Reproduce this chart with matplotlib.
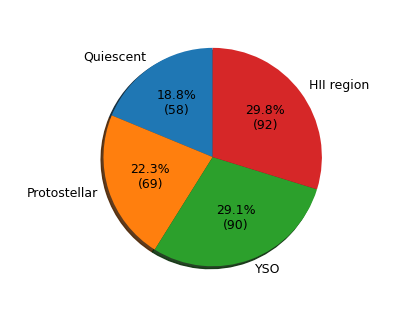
import matplotlib
matplotlib.use("Agg")
import matplotlib.pyplot as plt

labels = ["Quiescent", "Protostellar", "YSO", "HII region"]
counts = [58, 69, 90, 92]
colors = ["tab:blue", "tab:orange", "tab:green", "tab:red"]


def fmt(pct):
    n = int(round(pct * sum(counts) / 100.0))
    return "{:.1f}%\n({:d})".format(pct, n)


fig, ax = plt.subplots(figsize=(415 / 90, 311 / 90), dpi=90)
ax.pie(counts, labels=labels, colors=colors, autopct=fmt,
       startangle=90, radius=1.14,
       shadow={"ox": -0.02, "oy": -0.02, "shade": 0.7, "alpha": 0.9})
fig.savefig("out.png")
